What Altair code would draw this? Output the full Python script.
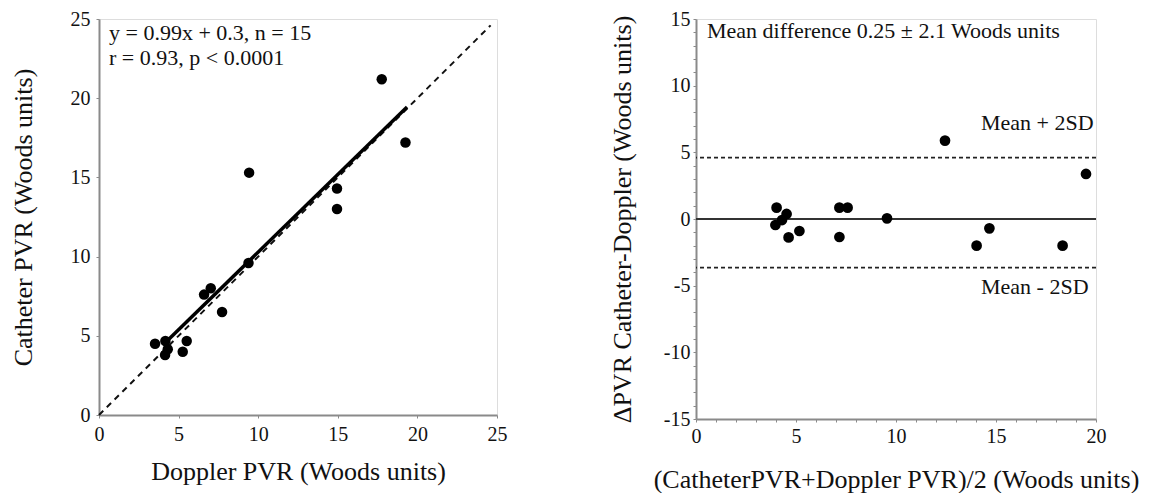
import altair as alt
import pandas as pd

# ---- data ----
doppler_pvr = [3.52, 4.17, 4.32, 4.15, 5.26, 5.51, 7.73, 6.60, 7.02, 9.39, 9.43, 14.95, 14.95, 17.76, 19.25]
catheter_pvr = [4.50, 4.67, 4.15, 3.79, 3.99, 4.67, 6.50, 7.60, 8.00, 9.60, 15.30, 14.30, 13.00, 21.20, 17.20]

reg_x = [4.4, 19.35]
reg_y = [4.8, 19.45]
identity_x = [0, 24.6]
identity_y = [0, 24.6]

ba_mean = [4.03, 4.53, 4.30, 3.97, 4.63, 5.17, 7.17, 7.58, 7.17, 9.55, 12.45, 14.03, 14.67, 18.33, 19.50]
ba_diff = [0.85, 0.38, -0.08, -0.45, -1.38, -0.90, 0.85, 0.85, -1.35, 0.05, 5.88, -2.00, -0.70, -2.00, 3.38]
upper_loa = 4.6
lower_loa = -3.65
zero_line = 0

left_ticks = [0, 5, 10, 15, 20, 25]
right_x_ticks = list(range(0, 21))
right_y_ticks = list(range(-15, 16))

left_notes = ["y = 0.99x + 0.3, n = 15", "r = 0.93, p < 0.0001"]
right_note = "Mean difference 0.25 \u00b1 2.1 Woods units"
loa_labels = ["Mean + 2SD", "Mean - 2SD"]

FONT = "Liberation Serif"
AXIS_GREY = "#8a8a8a"

scatter_df = pd.DataFrame({"doppler": doppler_pvr, "catheter": catheter_pvr})
reg_df = pd.DataFrame({"doppler": reg_x, "catheter": reg_y})
ident_df = pd.DataFrame({"doppler": identity_x, "catheter": identity_y})
ba_df = pd.DataFrame({"mean": ba_mean, "diff": ba_diff})
loa_df = pd.DataFrame({"diff": [upper_loa, lower_loa]})
zero_df = pd.DataFrame({"diff": [zero_line]})

LABEL_EXPR_ALL = "'' + datum.value"
LABEL_EXPR_5 = "datum.value % 5 === 0 ? '' + datum.value : ''"

common_axis = dict(
    grid=False,
    domainColor=AXIS_GREY,
    domainWidth=2,
    tickColor=AXIS_GREY,
    tickSize=3,
    labelFont=FONT,
    labelFontSize=20,
    labelColor="#111",
    labelFlush=False,
    labelOverlap=False,
    titleFont=FONT,
    titleFontSize=26,
    titleFontWeight="normal",
    titleColor="#111",
)

# ---------------- left panel ----------------
l_scale = alt.Scale(domain=[0, 25], nice=False)
lx = alt.X("doppler:Q", scale=l_scale,
           axis=alt.Axis(values=left_ticks, labelExpr=LABEL_EXPR_ALL,
                         title="Doppler PVR (Woods units)", labelPadding=6,
                         titlePadding=14, **common_axis))
ly = alt.Y("catheter:Q", scale=l_scale,
           axis=alt.Axis(values=left_ticks, labelExpr=LABEL_EXPR_ALL,
                         title="Catheter PVR (Woods units)", labelPadding=6,
                         titlePadding=34, **common_axis))

ident_line = alt.Chart(ident_df).mark_line(
    color="#111", strokeDash=[6, 5], strokeWidth=2
).encode(x=lx, y=ly)

reg_line = alt.Chart(reg_df).mark_line(color="#000", strokeWidth=3.5).encode(x=lx, y=ly)

pts_left = alt.Chart(scatter_df).mark_circle(color="#000", opacity=1, size=110).encode(x=lx, y=ly)

note1 = alt.Chart(pd.DataFrame({"t": [left_notes[0]]})).mark_text(
    font=FONT, fontSize=22, align="left", baseline="middle", color="#111"
).encode(x=alt.value(10), y=alt.value(14), text="t:N")
note2 = alt.Chart(pd.DataFrame({"t": [left_notes[1]]})).mark_text(
    font=FONT, fontSize=22, align="left", baseline="middle", color="#111"
).encode(x=alt.value(10), y=alt.value(39), text="t:N")

left = alt.layer(ident_line, reg_line, pts_left, note1, note2).properties(width=398, height=396)

# ---------------- right panel ----------------
rx_scale = alt.Scale(domain=[0, 20], nice=False)
ry_scale = alt.Scale(domain=[-15, 15], nice=False)

rx = alt.X("mean:Q", scale=rx_scale,
           axis=alt.Axis(values=right_x_ticks, labelExpr=LABEL_EXPR_5,
                         title="(CatheterPVR+Doppler PVR)/2 (Woods units)", labelPadding=4,
                         titlePadding=20, **common_axis))
ry = alt.Y("diff:Q", scale=ry_scale,
           axis=alt.Axis(values=right_y_ticks, labelExpr=LABEL_EXPR_5,
                         title="ΔPVR Catheter-Doppler (Woods units)", labelPadding=3,
                         titlePadding=28, **common_axis))

zero_rule = alt.Chart(zero_df).mark_rule(color="#333", strokeWidth=2).encode(y=ry)
loa_rules = alt.Chart(loa_df).mark_rule(color="#222", strokeDash=[4, 3], strokeWidth=1.6).encode(y=ry)

pts_right = alt.Chart(ba_df).mark_circle(color="#000", opacity=1, size=115).encode(x=rx, y=ry)

rnote = alt.Chart(pd.DataFrame({"t": [right_note]})).mark_text(
    font=FONT, fontSize=22, align="left", baseline="middle", color="#111"
).encode(x=alt.value(11), y=alt.value(12), text="t:N")
up_lab = alt.Chart(pd.DataFrame({"t": [loa_labels[0]]})).mark_text(
    font=FONT, fontSize=22, align="left", baseline="middle", color="#111"
).encode(x=alt.value(285), y=alt.value(104), text="t:N")
lo_lab = alt.Chart(pd.DataFrame({"t": [loa_labels[1]]})).mark_text(
    font=FONT, fontSize=22, align="left", baseline="middle", color="#111"
).encode(x=alt.value(285), y=alt.value(268), text="t:N")

right = alt.layer(zero_rule, loa_rules, pts_right, rnote, up_lab, lo_lab).properties(width=400, height=400)

chart = alt.hconcat(left, right, spacing=100).properties(
    padding={"left": 1, "top": 0, "right": 0, "bottom": 0}
).configure_view(stroke=None).configure_axis(
    labelFont=FONT, titleFont=FONT
).configure(background="white")

chart.save("out.html", embed_options={"renderer": "svg", "actions": False})
